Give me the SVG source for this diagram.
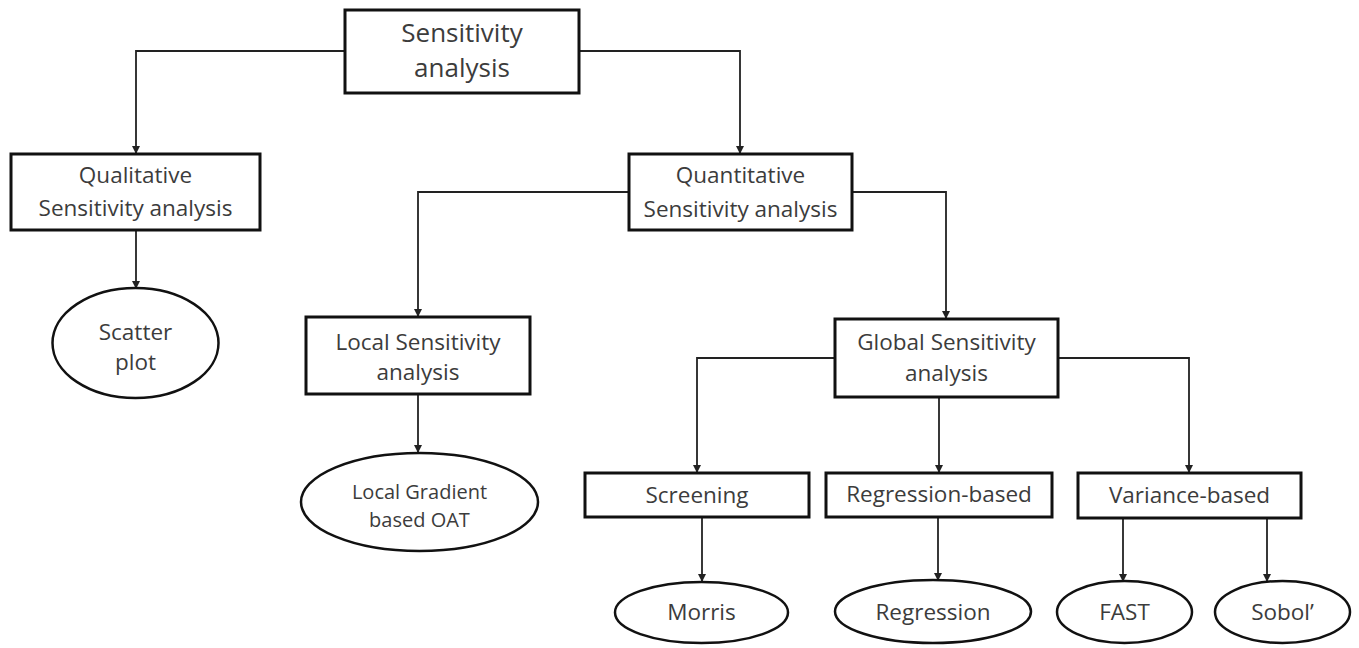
<svg xmlns="http://www.w3.org/2000/svg" width="1359" height="648" viewBox="0 0 1359 648">
<style>
.box{fill:#fff;stroke:#111;stroke-width:3}
.ell{fill:#fff;stroke:#111;stroke-width:2.5}
.t{font-family:"Open Sans","Noto Sans",sans-serif;font-size:22.5px;fill:#3c3c3c;text-anchor:middle}
.big{font-size:26px}
.sm{font-size:20px}
.c{fill:none;stroke:#222;stroke-width:1.8;marker-end:url(#ah)}
</style>
<defs>
<marker id="ah" markerWidth="8" markerHeight="8" refX="7" refY="4" orient="auto" markerUnits="userSpaceOnUse">
<path d="M0,0 L8,4 L0,8 Z" fill="#222"/>
</marker>
</defs>
<rect width="1359" height="648" fill="#fff"/>
<g id="connectors">
<path class="c" d="M345,51 H136 V153"/>
<path class="c" d="M579,51 H740 V153"/>
<path class="c" d="M136,230 V288"/>
<path class="c" d="M629,192 H418 V316"/>
<path class="c" d="M852,192 H946 V318"/>
<path class="c" d="M418,394 V452"/>
<path class="c" d="M835,358 H697 V472"/>
<path class="c" d="M939,397 V472"/>
<path class="c" d="M1058,358 H1189 V472"/>
<path class="c" d="M702,517 V581"/>
<path class="c" d="M938,517 V580"/>
<path class="c" d="M1123,518 V581"/>
<path class="c" d="M1267,518 V581"/>
</g>
<g id="root">
<rect class="box" x="345" y="10" width="234" height="83"/>
<text class="t big" x="462" y="42">Sensitivity</text>
<text class="t big" x="462" y="77">analysis</text>
</g>
<g id="qualitative">
<rect class="box" x="11" y="154" width="249" height="76"/>
<text class="t" x="135.5" y="183">Qualitative</text>
<text class="t" x="135.5" y="216">Sensitivity analysis</text>
</g>
<g id="quantitative">
<rect class="box" x="629" y="154" width="223" height="76"/>
<text class="t" x="740.5" y="183">Quantitative</text>
<text class="t" x="740.5" y="217">Sensitivity analysis</text>
</g>
<g id="scatter">
<ellipse class="ell" cx="135.5" cy="343" rx="83" ry="55"/>
<text class="t" x="135.5" y="340">Scatter</text>
<text class="t" x="135.5" y="370">plot</text>
</g>
<g id="local">
<rect class="box" x="306" y="317" width="224" height="77"/>
<text class="t" x="418" y="350">Local Sensitivity</text>
<text class="t" x="418" y="380">analysis</text>
</g>
<g id="local-gradient">
<ellipse class="ell" cx="419.5" cy="502" rx="118.5" ry="49"/>
<text class="t sm" x="419.5" y="499">Local Gradient</text>
<text class="t sm" x="419.5" y="527">based OAT</text>
</g>
<g id="global">
<rect class="box" x="835" y="319" width="223" height="78"/>
<text class="t" x="946.5" y="350">Global Sensitivity</text>
<text class="t" x="946.5" y="381">analysis</text>
</g>
<g id="screening">
<rect class="box" x="585" y="473" width="224" height="44"/>
<text class="t" x="697" y="503">Screening</text>
</g>
<g id="regression-based">
<rect class="box" x="826" y="473" width="226" height="44"/>
<text class="t" x="939" y="502">Regression-based</text>
</g>
<g id="variance-based">
<rect class="box" x="1078" y="473" width="223" height="45"/>
<text class="t" x="1189.5" y="503">Variance-based</text>
</g>
<g id="morris">
<ellipse class="ell" cx="701.5" cy="612.5" rx="86.5" ry="30.5"/>
<text class="t" x="701.5" y="620">Morris</text>
</g>
<g id="regression">
<ellipse class="ell" cx="933" cy="611.5" rx="98" ry="31.5"/>
<text class="t" x="933" y="620">Regression</text>
</g>
<g id="fast">
<ellipse class="ell" cx="1124.5" cy="612" rx="67.5" ry="31"/>
<text class="t" x="1124.5" y="620">FAST</text>
</g>
<g id="sobol">
<ellipse class="ell" cx="1282.5" cy="612" rx="67.5" ry="31"/>
<text class="t" x="1282.5" y="620">Sobol’</text>
</g>
</svg>
